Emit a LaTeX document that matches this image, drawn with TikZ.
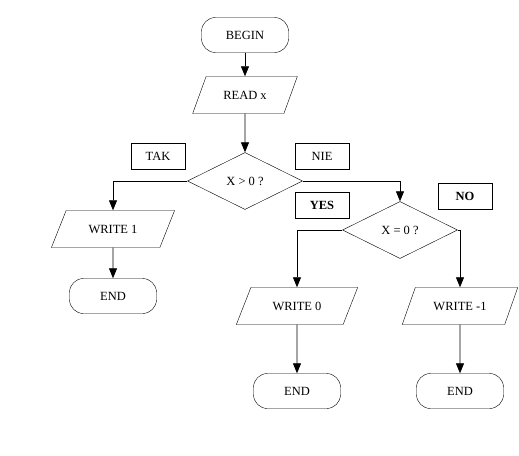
\documentclass[tikz,border=0pt]{standalone}
\usepackage{fontspec}
\setmainfont{Liberation Serif}
\usetikzlibrary{shapes.geometric,arrows.meta}

\begin{document}
\begin{tikzpicture}[
    x=1pt, y=-1pt,
    every node/.style={font=\fontsize{12.5}{14}\selectfont},
    % Start and stop nodes
    terminal/.style={
        draw,
        rounded corners=14pt,
        minimum width=87pt,
        minimum height=35pt,
        align=center
    },
    % Input and output nodes
    inout/.style={
        draw,
        trapezium,
        trapezium left angle=60,
        trapezium right angle=120,
        trapezium stretches=true,
        minimum width=122pt,
        minimum height=37pt,
        align=center
    },
    % Decision nodes
    decision/.style={
        draw,
        diamond,
        inner sep=0pt,
        minimum width=115pt,
        minimum height=57pt,
        align=center
    },
    % Branch labels
    branch/.style={
        draw,
        minimum width=54pt,
        minimum height=26pt
    },
    % Arrow style
    arrow/.style={line width=0.8pt, -{Triangle[length=10pt,width=8pt]}}
    ]

    \useasboundingbox (0,0) rectangle (519,455);

    % Main column
    \node[terminal] (begin) at (245,35) {BEGIN};
    \node[inout, minimum width=105pt] (read) at (245,95) {READ x};
    \node[decision] (test1) at (245,181) {X > 0 ?};

    \node[branch] (tak) at (158,156) {TAK};
    \node[branch] (nie) at (322,156) {NIE};

    % Left branch
    \node[inout, minimum width=124pt] (write1) at (113,229) {WRITE 1};
    \node[terminal] (end1) at (113,296) {END};

    % Right branch
    \node[decision] (test2) at (400,230) {X = 0 ?};

    \node[branch] (yes) at (322,205) {\textbf{YES}};
    \node[branch] (no) at (465,196) {\textbf{NO}};

    \node[inout] (write0) at (297,306) {WRITE 0};
    \node[terminal] (end2) at (297,391) {END};

    \node[inout, minimum width=116pt] (writem1) at (460,306) {WRITE -1};
    \node[terminal] (end3) at (460,391) {END};

    % Arrows connecting steps
    \draw[arrow] (begin) -- (read);
    \draw[arrow] (read) -- (test1);
    \draw[arrow] (test1.west) -| (write1.north);
    \draw[arrow] (write1) -- (end1);
    \draw[arrow] (test1.east) -| (test2.north);
    \draw[arrow] (test2.west) -| (write0.north);
    \draw[arrow] (test2.east) -| (writem1.north);
    \draw[arrow] (write0) -- (end2);
    \draw[arrow] (writem1) -- (end3);

\end{tikzpicture}
\end{document}
